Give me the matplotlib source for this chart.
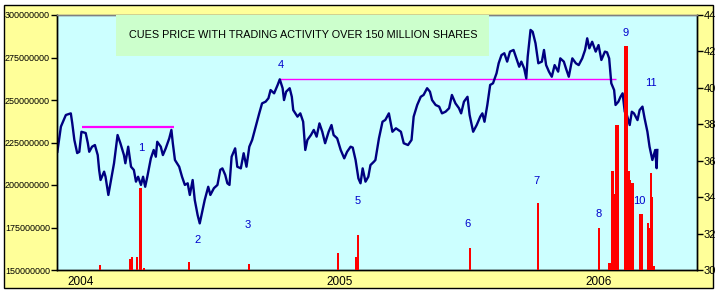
import matplotlib
matplotlib.use("Agg")
import matplotlib.pyplot as plt
import pandas as pd
from matplotlib import font_manager
from matplotlib.patches import Rectangle
from matplotlib.ticker import FuncFormatter, FixedLocator

# ---------------- data ----------------
price_dates = [
    "2003-11-29", "2003-12-04", "2003-12-11", "2003-12-18", "2003-12-20", "2003-12-23", "2003-12-27", "2003-12-30",
    "2004-01-02", "2004-01-08", "2004-01-11", "2004-01-13", "2004-01-17", "2004-01-21", "2004-01-25", "2004-01-27",
    "2004-01-29", "2004-02-03", "2004-02-05", "2004-02-09", "2004-02-12", "2004-02-17", "2004-02-22", "2004-02-26",
    "2004-03-02", "2004-03-04", "2004-03-08", "2004-03-12", "2004-03-16", "2004-03-19", "2004-03-22", "2004-03-26",
    "2004-03-29", "2004-04-01", "2004-04-04", "2004-04-09", "2004-04-13", "2004-04-16", "2004-04-18", "2004-04-23",
    "2004-04-26", "2004-04-30", "2004-05-05", "2004-05-08", "2004-05-10", "2004-05-13", "2004-05-19", "2004-05-23",
    "2004-05-27", "2004-05-31", "2004-06-03", "2004-06-07", "2004-06-10", "2004-06-14", "2004-06-17", "2004-06-21",
    "2004-06-24", "2004-06-29", "2004-07-02", "2004-07-07", "2004-07-12", "2004-07-16", "2004-07-19", "2004-07-23",
    "2004-07-26", "2004-07-29", "2004-08-01", "2004-08-06", "2004-08-09", "2004-08-14", "2004-08-18", "2004-08-22",
    "2004-08-26", "2004-08-30", "2004-09-04", "2004-09-09", "2004-09-13", "2004-09-18", "2004-09-22", "2004-09-25",
    "2004-09-30", "2004-10-05", "2004-10-08", "2004-10-12", "2004-10-14", "2004-10-17", "2004-10-22", "2004-10-25",
    "2004-10-27", "2004-11-02", "2004-11-06", "2004-11-10", "2004-11-13", "2004-11-16", "2004-11-21", "2004-11-25",
    "2004-11-29", "2004-12-03", "2004-12-07", "2004-12-11", "2004-12-16", "2004-12-20", "2004-12-23", "2004-12-28",
    "2005-01-02", "2005-01-07", "2005-01-11", "2005-01-16", "2005-01-19", "2005-01-23", "2005-01-27", "2005-01-30",
    "2005-02-02", "2005-02-06", "2005-02-10", "2005-02-13", "2005-02-18", "2005-02-20", "2005-02-25", "2005-03-02",
    "2005-03-06", "2005-03-11", "2005-03-16", "2005-03-21", "2005-03-28", "2005-04-01", "2005-04-07", "2005-04-12",
    "2005-04-15", "2005-04-20", "2005-04-25", "2005-04-29", "2005-05-04", "2005-05-08", "2005-05-11", "2005-05-16",
    "2005-05-21", "2005-05-25", "2005-05-30", "2005-06-04", "2005-06-08", "2005-06-13", "2005-06-18", "2005-06-21",
    "2005-06-25", "2005-06-30", "2005-07-03", "2005-07-08", "2005-07-13", "2005-07-18", "2005-07-21", "2005-07-24",
    "2005-07-28", "2005-08-01", "2005-08-05", "2005-08-10", "2005-08-13", "2005-08-17", "2005-08-21", "2005-08-25",
    "2005-08-29", "2005-09-03", "2005-09-07", "2005-09-11", "2005-09-14", "2005-09-18", "2005-09-21", "2005-09-23",
    "2005-09-27", "2005-09-30", "2005-10-04", "2005-10-08", "2005-10-13", "2005-10-16", "2005-10-19", "2005-10-23",
    "2005-10-27", "2005-10-31", "2005-11-05", "2005-11-08", "2005-11-13", "2005-11-16", "2005-11-20", "2005-11-25",
    "2005-11-30", "2005-12-04", "2005-12-09", "2005-12-13", "2005-12-16", "2005-12-19", "2005-12-23", "2005-12-28",
    "2006-01-01", "2006-01-05", "2006-01-10", "2006-01-13", "2006-01-16", "2006-01-19", "2006-01-23", "2006-01-25",
    "2006-01-29", "2006-02-01", "2006-02-04", "2006-02-07", "2006-02-10", "2006-02-14", "2006-02-17", "2006-02-20",
    "2006-02-25", "2006-02-28", "2006-03-04", "2006-03-07", "2006-03-11", "2006-03-14", "2006-03-18", "2006-03-22",
    "2006-03-24", "2006-03-25",
]
price_values = [
    36.49, 37.87, 38.51, 38.60, 38.07, 37.14, 36.42, 36.49,
    37.59, 37.52, 36.97, 36.49, 36.77, 36.86, 36.31, 35.49,
    34.94, 35.40, 35.12, 34.12, 34.76, 35.86, 37.41, 36.96,
    36.31, 35.86, 36.77, 35.67, 35.49, 34.85, 35.12, 34.67,
    35.12, 34.57, 35.12, 36.13, 36.59, 36.22, 37.04, 36.77,
    36.31, 36.68, 37.23, 37.69, 36.96, 36.04, 35.67, 35.12,
    34.67, 34.76, 34.12, 34.94, 33.84, 33.02, 32.56, 33.29,
    33.84, 34.57, 34.12, 34.49, 34.67, 35.50, 35.58, 35.22,
    34.76, 34.67, 36.22, 36.68, 35.67, 35.58, 36.41, 35.67,
    36.77, 37.14, 37.87, 38.60, 39.15, 39.24, 39.43, 39.88,
    39.70, 40.16, 40.47, 39.98, 39.33, 39.79, 39.98, 39.51,
    38.78, 38.42, 38.60, 38.14, 36.59, 37.14, 37.41, 37.69,
    37.32, 38.05, 37.59, 36.96, 37.59, 37.96, 37.41, 37.23,
    36.59, 36.13, 36.49, 36.77, 36.72, 36.04, 35.03, 34.76,
    35.58, 34.85, 35.12, 35.76, 35.95, 36.04, 37.23, 38.14,
    38.24, 38.60, 37.59, 37.78, 37.59, 36.96, 36.86, 37.14,
    38.42, 39.06, 39.51, 39.61, 39.98, 39.79, 39.33, 39.06,
    38.97, 38.60, 38.69, 38.88, 39.61, 39.15, 38.88, 38.60,
    39.24, 39.51, 38.51, 37.59, 37.96, 38.42, 38.60, 38.14,
    39.06, 40.16, 40.25, 40.80, 41.35, 41.80, 41.90, 41.44,
    41.99, 42.08, 41.62, 41.16, 41.44, 41.07, 40.52, 41.71,
    43.18, 43.08, 42.45, 41.35, 41.44, 42.08, 41.25, 40.89,
    40.61, 41.25, 40.89, 41.62, 41.44, 41.07, 40.61, 41.62,
    41.35, 41.25, 41.62, 42.08, 42.72, 42.17, 42.53, 41.99,
    42.35, 41.53, 41.99, 41.95, 41.62, 40.25, 39.88, 39.06,
    39.24, 39.51, 39.70, 38.69, 38.51, 37.96, 38.69, 38.60,
    38.23, 38.78, 38.97, 38.33, 37.59, 36.77, 36.04, 36.59,
    35.59, 36.59,
]

volume_dates = [
    "2004-01-28", "2004-03-11", "2004-03-13", "2004-03-20", "2004-03-24", "2004-03-26", "2004-03-30",
    "2004-06-02", "2004-08-26", "2004-12-29", "2005-01-24", "2005-01-26", "2005-07-04", "2005-10-08",
    "2006-01-02", "2006-01-16", "2006-01-18", "2006-01-20", "2006-01-22", "2006-01-24", "2006-01-26",
    "2006-01-28", "2006-02-07", "2006-02-09", "2006-02-11", "2006-02-13", "2006-02-15", "2006-02-17",
    "2006-02-19", "2006-03-01", "2006-03-03", "2006-03-12", "2006-03-14", "2006-03-16", "2006-03-18",
    "2006-03-20",
]
volume_values = [
    153.0e6, 156.5e6, 157.5e6, 157.5e6, 198.0e6, 198.0e6, 151.2e6,
    154.5e6, 153.5e6, 159.8e6, 157.8e6, 170.4e6, 162.7e6, 189.2e6,
    174.5e6, 154.3e6, 154.3e6, 208.2e6, 208.2e6, 195.0e6, 235.3e6,
    235.3e6, 281.8e6, 282.0e6, 281.5e6, 208.0e6, 203.0e6, 201.0e6,
    201.0e6, 183.0e6, 183.0e6, 177.8e6, 175.0e6, 207.0e6, 193.0e6,
    152.5e6,
]

# horizontal resistance lines (start, end, price)
level_starts = ["2004-01-03", "2004-10-08"]
level_ends = ["2004-05-11", "2006-01-25"]
level_prices = [37.87, 40.49]

# numbered markers (label, date, price)
marker_labels = ["1", "2", "3", "4", "5", "6", "7", "8", "9", "10", "11"]
marker_dates = ["2004-03-26", "2004-06-14", "2004-08-24", "2004-10-10", "2005-01-26", "2005-06-30",
                "2005-10-05", "2006-01-01", "2006-02-08", "2006-02-27", "2006-03-16"]
marker_prices = [36.68, 31.65, 32.47, 41.25, 33.79, 32.51, 34.89, 33.09, 43.01, 33.79, 40.27]

year_labels = ["2004", "2005", "2006"]
year_ticks = ["2004-01-01", "2005-01-01", "2006-01-01"]
volume_ticks = [150000000, 175000000, 200000000, 225000000, 250000000, 275000000, 300000000]
price_ticks = [30, 32, 34, 36, 38, 40, 42, 44]
title_text = "CUES PRICE WITH TRADING ACTIVITY OVER 150 MILLION SHARES"

# ---------------- fonts ----------------
def pick_font(names):
    for n in names:
        try:
            font_manager.findfont(n, fallback_to_default=False)
            return n
        except Exception:
            continue
    return "DejaVu Sans"

narrow = pick_font(["Liberation Sans Narrow", "Arial Narrow"])
has_narrow = narrow != "DejaVu Sans"
regular = pick_font(["Liberation Sans", "Arial"])
tfont = narrow if has_narrow else regular

# ---------------- figure ----------------
W, H = 719, 294
fig = plt.figure(figsize=(W / 100, H / 100), dpi=100)
fig.patch.set_facecolor("white")
fig.patches.append(Rectangle((4 / W, 1 - 288 / H), (713 - 4) / W, (288 - 5) / H,
                             transform=fig.transFigure, facecolor="#FFFF99",
                             edgecolor="black", linewidth=1.0, zorder=0))

L, R, T, B = 57, 697, 15, 270
ax = fig.add_axes([L / W, 1 - B / H, (R - L) / W, (B - T) / H])
ax2 = ax.twinx()

ax.set_zorder(2)
ax.patch.set_visible(False)
ax2.set_zorder(1)
ax2.patch.set_visible(True)
ax2.patch.set_facecolor("#CCFFFF")

pd_price = pd.to_datetime(price_dates)
pd_vol = pd.to_datetime(volume_dates)

# volume bars (left axis)
ax.bar(pd_vol, [v - 150e6 for v in volume_values], bottom=150e6, width=2.4,
       color="#FF0000", linewidth=0, zorder=3)

# price line (right axis)
ax2.plot(pd_price, price_values, color="#000080", linewidth=1.7, zorder=2)
for s, e, p in zip(level_starts, level_ends, level_prices):
    lw = 1.6 if p < 39 else 1.0
    ax2.hlines(p, pd.Timestamp(s), pd.Timestamp(e), color="#FF00FF", linewidth=lw, zorder=1)
for lab, d, p in zip(marker_labels, marker_dates, marker_prices):
    ax2.text(pd.Timestamp(d), p, lab, color="#0000CC", fontsize=8, ha="center", va="center",
             family=regular, zorder=3)

xmin, xmax = pd.Timestamp("2003-11-28 12:00"), pd.Timestamp("2006-05-20")
ax.set_xlim(xmin, xmax)
ax.set_ylim(150e6, 300e6)
ax2.set_ylim(30, 44)

ax.yaxis.set_major_locator(FixedLocator(volume_ticks))
ax.yaxis.set_major_formatter(FuncFormatter(lambda v, p: "%d" % round(v)))
ax2.yaxis.set_major_locator(FixedLocator(price_ticks))
ax2.yaxis.set_major_formatter(FuncFormatter(lambda v, p: "%d" % round(v)))

ax.set_xticks(pd.to_datetime(year_ticks))
ax.set_xticklabels(year_labels)

ax.tick_params(axis="y", direction="out", length=4, width=1, pad=1, labelsize=7 if has_narrow else 6.5,
               colors="black")
ax2.tick_params(axis="y", direction="out", length=4, width=1, pad=1, labelsize=8, colors="black")
ax.tick_params(axis="x", length=0, pad=4, labelsize=10 if has_narrow else 8.5)
for lab in ax.get_yticklabels() + ax.get_xticklabels():
    lab.set_family(tfont)
for lab in ax2.get_yticklabels():
    lab.set_family(tfont)

for a in (ax, ax2):
    a.spines["top"].set_color("#808080")
    a.spines["left"].set_color("black")
    a.spines["right"].set_color("black")
    a.spines["bottom"].set_color("black")
    for s in a.spines.values():
        s.set_linewidth(1.0)

# title box
ax.add_patch(Rectangle(((116 - L) / (R - L), (B - 56) / (B - T)), (489 - 116) / (R - L), (56 - T) / (B - T),
                       transform=ax.transAxes, facecolor="#CCFFCC", edgecolor="none", zorder=4))
ax.text(((129 + 477) / 2 - L) / (R - L), (B - 35) / (B - T), title_text, transform=ax.transAxes,
        ha="center", va="center", fontsize=9 if has_narrow else 7.8, family=tfont, color="black", zorder=5)

fig.savefig("out.png", dpi=100, facecolor=fig.get_facecolor())
